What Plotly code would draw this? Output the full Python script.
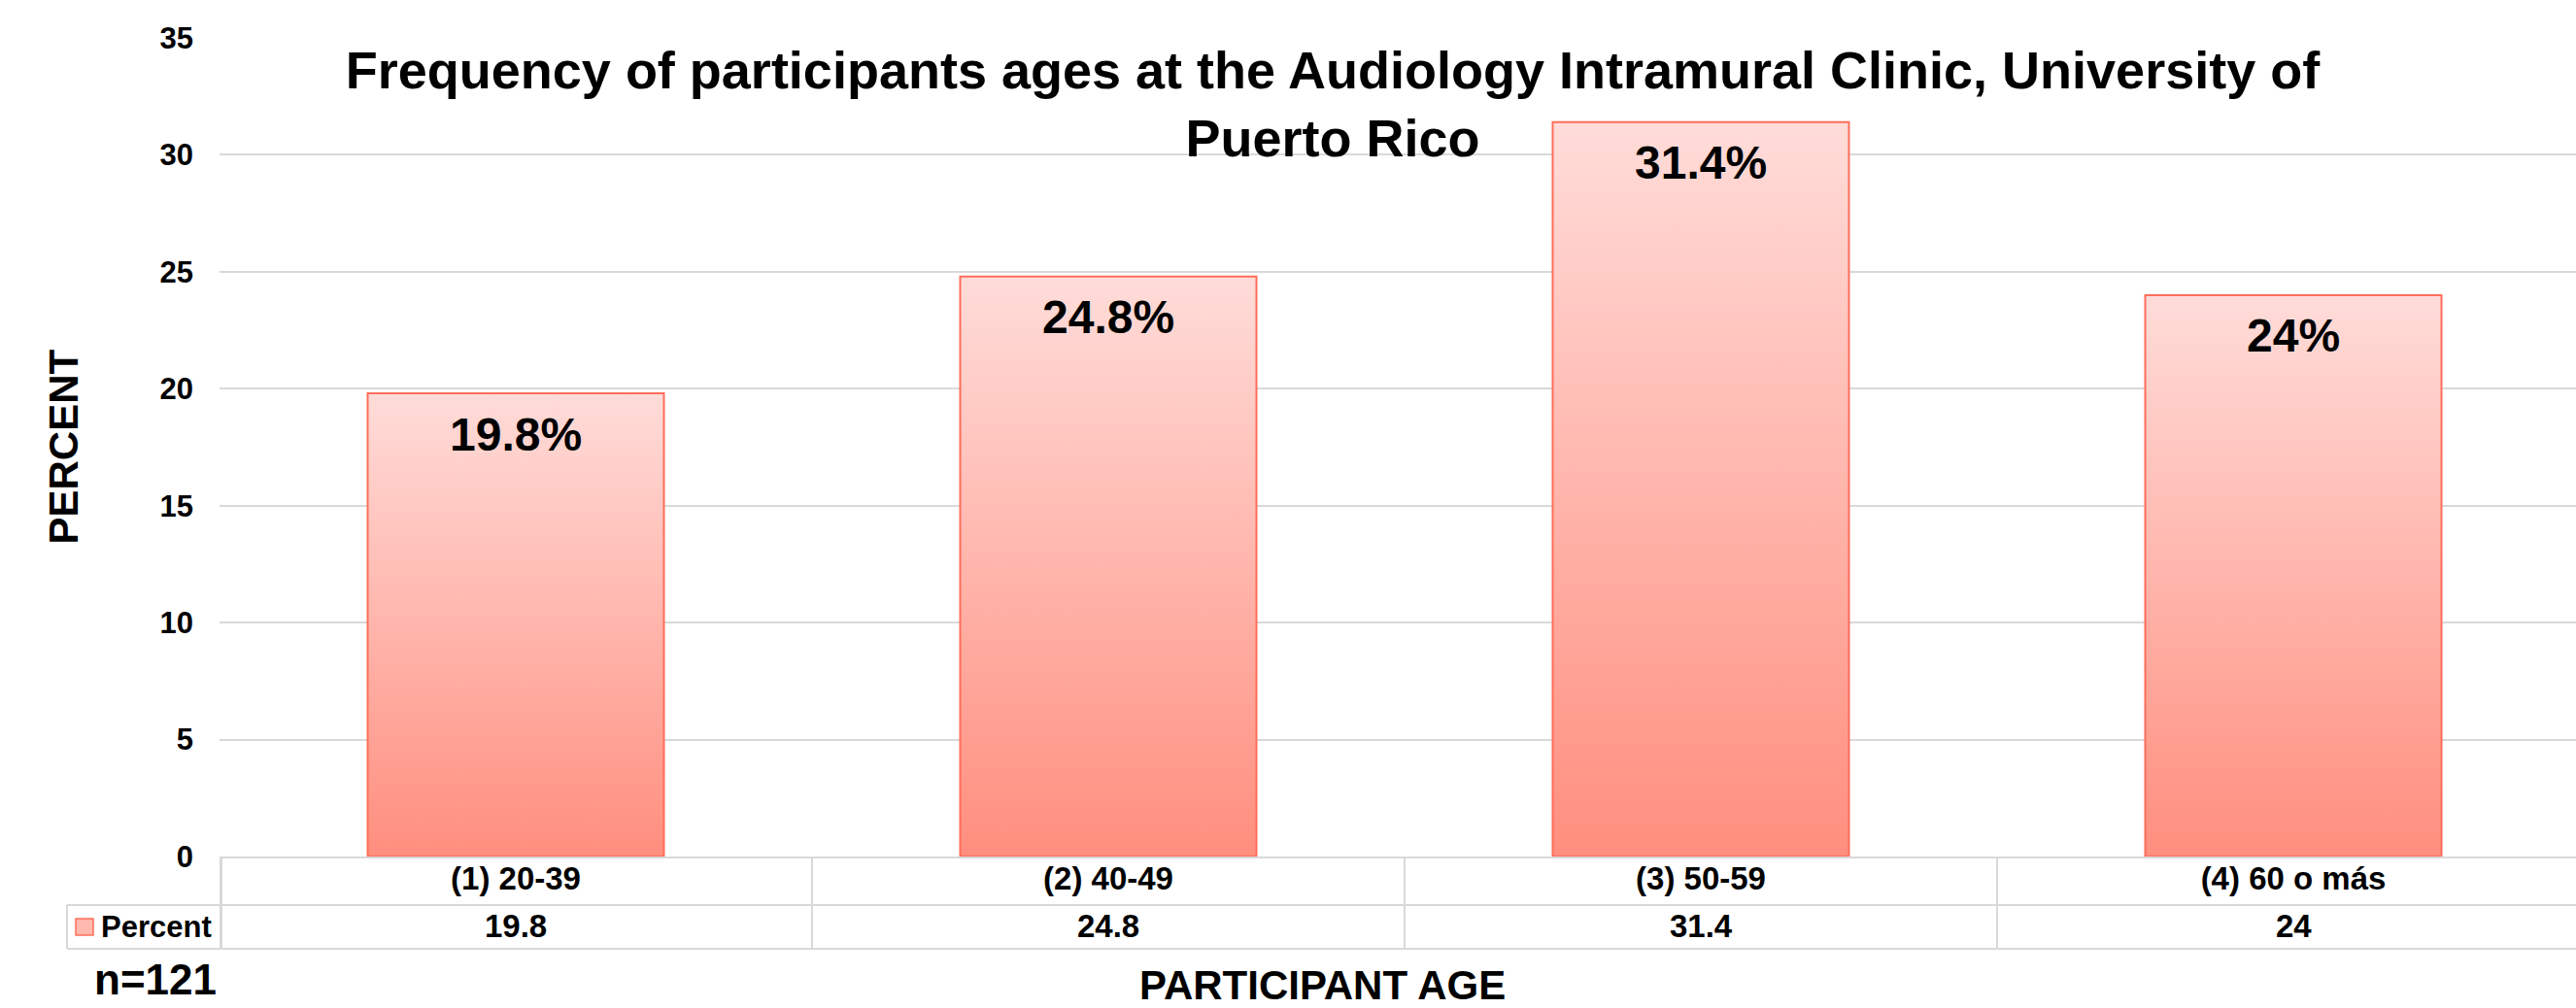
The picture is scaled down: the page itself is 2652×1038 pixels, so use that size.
import plotly.graph_objects as go

# ---- data ----
categories = ["(1) 20-39", "(2) 40-49", "(3) 50-59", "(4) 60 o más"]
percent_values = [19.8, 24.8, 31.4, 24]
series_name = "Percent"
sample_note = "n=121"
title_text = "Frequency of participants ages at the Audiology Intramural Clinic, University of<br>Puerto Rico"
y_title = "PERCENT"
x_title = "PARTICIPANT AGE"
y_ticks = [0, 5, 10, 15, 20, 25, 30, 35]

# ---- layout constants (pixels) ----
W, H = 2652, 1038
L, T, B = 226, 39, 156
PLOT_H = H - T - B          # 843
PLOT_W = W - L              # 2426
COL_W = 610                 # category column width in px
FONT = "Liberation Sans, Arial, sans-serif"
GRID = "#D9D9D9"
BAR_LINE = "#FF6E5A"
BAR_TOP = "#FFDCD9"
BAR_BOTTOM = "#FF8E7E"


def py(pix):  # pixel row -> paper y
    return (H - B - pix) / PLOT_H


def px(pix):  # pixel column -> paper x
    return (pix - L) / PLOT_W


fig = go.Figure()

bar_w = 0.5
for i, v in enumerate(percent_values):
    fig.add_trace(go.Scatter(
        x=[i - bar_w / 2, i + bar_w / 2, i + bar_w / 2, i - bar_w / 2, i - bar_w / 2],
        y=[0, 0, v, v, 0],
        mode="lines",
        fill="toself",
        fillgradient=dict(type="vertical", colorscale=[[0, BAR_BOTTOM], [1, BAR_TOP]]),
        line=dict(color=BAR_LINE, width=2),
        name=series_name,
        showlegend=False,
        hoverinfo="text",
        text=f"{categories[i]}: {v:g}",
    ))
    fig.add_annotation(
        x=i, y=v, xref="x", yref="y", text=f"{v:g}%", showarrow=False,
        yanchor="middle", yshift=-42,
        font=dict(family=FONT, size=48, color="black", weight="bold"),
    )
    # value row of the data table
    fig.add_annotation(
        x=i, y=py(953), xref="x", yref="paper", text=f"{v:g}", showarrow=False,
        yanchor="middle",
        font=dict(family=FONT, size=33, color="black", weight="bold"),
    )

# table grid lines
shapes = []
for i in range(len(categories)):
    shapes.append(dict(type="line", xref="x", yref="paper", x0=i - 0.5, x1=i - 0.5,
                       y0=0, y1=py(977), line=dict(color=GRID, width=2)))
for yy in (932, 977):
    shapes.append(dict(type="line", xref="paper", yref="paper", x0=px(69), x1=1,
                       y0=py(yy), y1=py(yy), line=dict(color=GRID, width=2)))
shapes.append(dict(type="line", xref="paper", yref="paper", x0=px(69), x1=px(69),
                   y0=py(932), y1=py(977), line=dict(color=GRID, width=2)))
shapes.append(dict(type="line", xref="paper", yref="paper", x0=px(228), x1=px(228),
                   y0=0, y1=py(977), line=dict(color=GRID, width=2)))
# legend key
shapes.append(dict(type="rect", xref="paper", yref="paper", x0=px(78), x1=px(96),
                   y0=py(963), y1=py(946), fillcolor="#FFB8AE",
                   line=dict(color=BAR_LINE, width=1.5)))

fig.add_annotation(x=px(102), y=py(954), xref="paper", yref="paper", text=series_name,
                   showarrow=False, xanchor="left", yanchor="middle",
                   font=dict(family=FONT, size=31, color="black", weight="bold"))
fig.add_annotation(x=px(65), y=0.5, xref="paper", yref="paper", text=y_title,
                   showarrow=False, textangle=-90, xanchor="center", yanchor="middle",
                   font=dict(family=FONT, size=42, color="black", weight="bold"))
fig.add_annotation(x=px(1361), y=py(1014), xref="paper", yref="paper", text=x_title,
                   showarrow=False, xanchor="center", yanchor="middle",
                   font=dict(family=FONT, size=42, color="black", weight="bold"))
fig.add_annotation(x=px(95), y=py(1008), xref="paper", yref="paper", text=sample_note,
                   showarrow=False, xanchor="left", yanchor="middle",
                   font=dict(family=FONT, size=44, color="black", weight="bold"))

fig.update_layout(
    width=W, height=H,
    margin=dict(l=L, r=0, t=T, b=B, pad=0),
    paper_bgcolor="white", plot_bgcolor="white",
    shapes=shapes,
    title=dict(text=title_text, x=1372 / W, xanchor="center", xref="container",
               y=1 - 91 / H, yanchor="top", yref="container",
               font=dict(family=FONT, size=54, color="black", weight="bold")),
    xaxis=dict(range=[-0.5, -0.5 + PLOT_W / COL_W], tickvals=list(range(len(categories))),
               ticktext=categories, showgrid=False, zeroline=False, ticks="",
               showline=True, linecolor=GRID, linewidth=2, ticklabelstandoff=-8,
               tickfont=dict(family=FONT, size=33, color="black", weight="bold")),
    yaxis=dict(range=[0, 35], tickvals=y_ticks, showgrid=True, gridcolor=GRID, gridwidth=2,
               zeroline=False, showline=False, ticks="", ticklabelstandoff=26,
               tickfont=dict(family=FONT, size=31, color="black", weight="bold")),
    showlegend=False,
)

fig.write_html("out.html", config={"displayModeBar": False},
               post_script="document.body.style.margin='0px';")
